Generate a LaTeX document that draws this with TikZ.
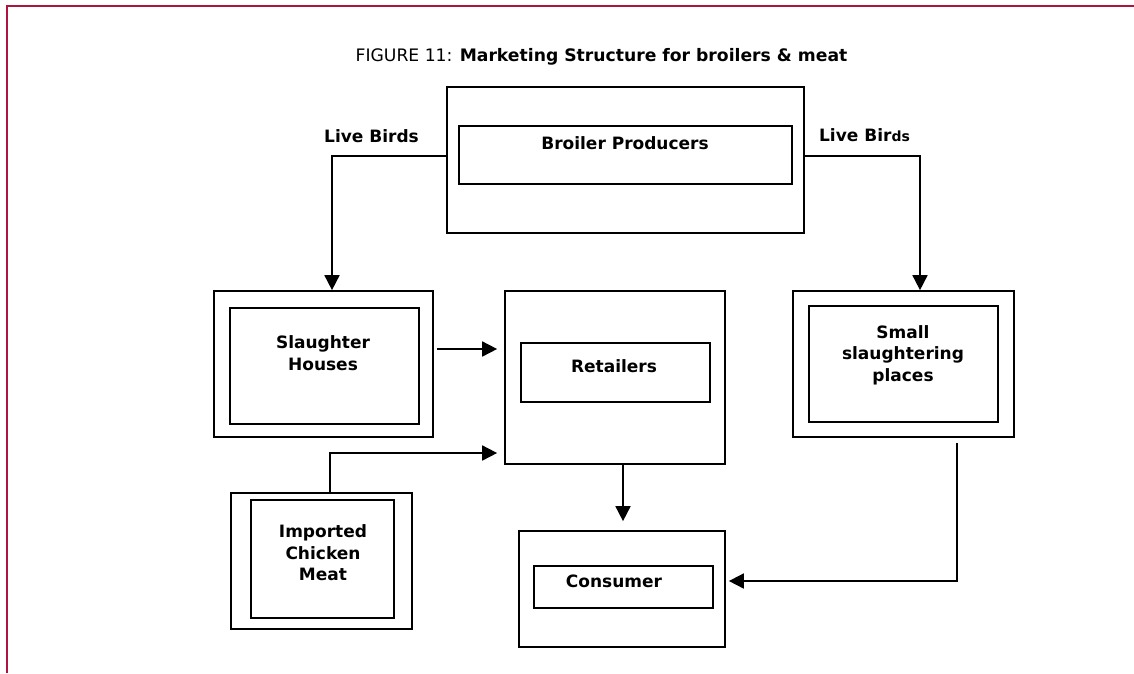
\documentclass[tikz,border=0pt]{standalone}
\usepackage{fontspec}
\setmainfont{DejaVu Sans}
\usetikzlibrary{arrows.meta}
\definecolor{framered}{RGB}{175,20,65}
\tikzset{
    box/.style={draw, line width=1.7pt, inner sep=0pt},
    txt/.style={font=\fontsize{17}{21.5}\selectfont\bfseries, align=center, inner sep=0pt},
    arr/.style={line width=1.7pt, -{Triangle[width=15pt,length=15pt]}}
}
\begin{document}
\begin{tikzpicture}[x=1pt,y=-1pt]
    \useasboundingbox (0,0) rectangle (1134,673);
    \draw[framered, line width=2.6pt] (7,673) -- (7,6) -- (1134,6);
    \node[txt, font=\fontsize{17.2}{21.5}\selectfont] (title) at (601.5,57)
        {FIGURE 11: \textbf{Marketing Structure for broilers \& meat}};
    % producers
    \node[box, minimum width=357, minimum height=146] (bpout) at (625.5,160) {};
    \node[box, minimum width=333, minimum height=58] (bpin) at (625.5,155) {};
    \node[txt] (bptxt) at (625,143) {Broiler Producers};
    % slaughter houses
    \node[box, minimum width=219, minimum height=146] (shout) at (323.5,364) {};
    \node[box, minimum width=189, minimum height=116] (shin) at (324.5,366) {};
    \node[txt] (shtxt) at (323,353) {Slaughter\\Houses};
    % retailers
    \node[box, minimum width=220, minimum height=173] (rtout) at (615,377.5) {};
    \node[box, minimum width=189, minimum height=59] (rtin) at (615.5,372.5) {};
    \node[txt] (rttxt) at (614,366) {Retailers};
    % small slaughtering places
    \node[box, minimum width=221, minimum height=146] (smout) at (903.5,364) {};
    \node[box, minimum width=189, minimum height=116] (smin) at (903.5,364) {};
    \node[txt] (smtxt) at (903,355) {Small\\slaughtering\\places};
    % imported meat
    \node[box, minimum width=181, minimum height=136] (imout) at (321.5,561) {};
    \node[box, minimum width=143, minimum height=118] (imin) at (322.5,559) {};
    \node[txt] (imtxt) at (323,553) {Imported\\Chicken\\Meat};
    % consumer
    \node[box, minimum width=206, minimum height=116] (cnout) at (622,589) {};
    \node[box, minimum width=179, minimum height=42] (cnin) at (623.5,587) {};
    \node[txt] (cntxt) at (614,581) {Consumer};
    % labels
    \node[txt] (lbl1) at (371.5,136) {Live Birds};
    \node[txt] (lbl2) at (864.5,135) {Live Bir{\fontsize{14}{16}\selectfont ds}};
    % connectors
    \coordinate (r0) at (0,156);
    \coordinate (r1) at (0,349);
    \coordinate (r2) at (0,453);
    \coordinate (r3) at (0,581);
    \draw[arr] (bpout.west |- r0) -| ([xshift=8.5pt]shout.north);
    \draw[arr] (bpout.east |- r0) -| ([xshift=16.5pt]smout.north);
    \draw[arr, shorten <=3pt, shorten >=7pt] (shout.east |- r1) -- (rtout.west |- r1);
    \draw[arr, shorten >=7pt] ([xshift=8.5pt]imout.north) |- (rtout.west |- r2);
    \draw[arr, shorten >=9pt] ([xshift=8pt]rtout.south) -- ([xshift=1pt]cnout.north);
    \draw[arr, shorten <=5pt, shorten >=3pt] ([xshift=53.5pt]smout.south) |- (cnout.east |- r3);
\end{tikzpicture}
\end{document}
